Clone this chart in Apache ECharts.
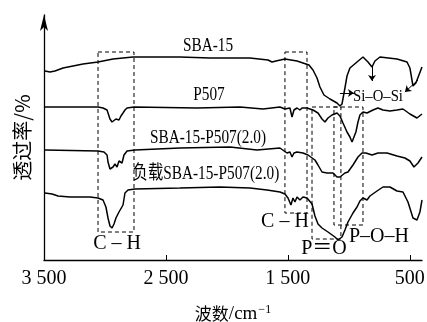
<!DOCTYPE html>
<html>
<head>
<meta charset="utf-8">
<script src="https://cdn.jsdelivr.net/npm/echarts@6.0.0/dist/echarts.min.js"></script>
<style>
  html, body { margin: 0; padding: 0; background: #fff; }
  #main { width: 427px; height: 322px; }
</style>
</head>
<body>
<div id="main"></div>
<script>
// 波数 (cm-1) 与 相对透过率（各曲线已错开）
const sba15 = [
  [3492,189],[3451,188],[3410,189],[3344,192],[3180,196],[3057,198],[2934,201],[2770,203],
  [2385,203],[2139,202],[1811,202],[1663,200],[1630,198],[1598,199],[1524,201],[1425,199],
  [1376,197],[1327,195],[1294,190],[1261,182],[1237,173],[1204,165],[1155,161],[1097,157],
  [1073,154],[1056,156],[1032,172],[1015,184],[991,192],[933,198],[884,203],[843,198],
  [810,193],[786,199],[745,203],[605,201],[523,198],[499,192],[474,174],[450,177],[400,193]
];
const p507 = [
  [3492,153],[3057,153],[3016,152],[2983,150],[2959,141],[2942,138],[2926,137],[2910,141],
  [2901,142],[2885,140],[2869,144],[2852,147],[2836,150],[2819,152],[2762,153],[2245,152],
  [1893,153],[1704,151],[1565,153],[1524,151],[1483,152],[1466,143],[1450,150],[1425,152],
  [1401,150],[1384,152],[1343,152],[1294,150],[1253,147],[1220,141],[1196,138],[1171,142],
  [1138,145],[1097,147],[1073,144],[1048,137],[1015,128],[991,123],[974,118],[958,120],
  [942,128],[925,138],[909,145],[884,148],[851,147],[802,150],[761,152],[720,150],
  [663,149],[605,150],[556,151],[499,146],[441,142],[400,146]
];
const sbaP507 = [
  [3492,110],[3057,109],[3008,108],[2983,105],[2975,98],[2959,91],[2934,93],[2918,96],
  [2901,93],[2885,99],[2860,97],[2844,105],[2819,109],[2754,110],[2385,112],[1975,113],
  [1753,110],[1565,112],[1507,107],[1483,108],[1466,103],[1450,107],[1425,108],[1376,107],
  [1335,105],[1278,100],[1253,95],[1220,88],[1179,87],[1130,87],[1097,83],[1073,83],
  [1032,87],[1007,88],[966,95],[925,103],[892,107],[860,107],[810,105],[761,107],
  [687,107],[605,104],[540,102],[499,99],[466,93],[433,97],[400,103]
];
const loaded = [
  [3492,67],[3434,66],[3385,64],[3287,63],[3123,63],[3057,62],[3016,60],[2992,53],
  [2975,42],[2959,34],[2942,32],[2926,36],[2910,42],[2901,40],[2885,48],[2869,46],
  [2852,55],[2836,67],[2811,70],[2754,71],[2385,72],[2057,73],[1811,72],[1671,70],
  [1565,68],[1524,66],[1499,62],[1475,55],[1458,62],[1442,58],[1425,63],[1401,60],
  [1376,63],[1343,62],[1302,56],[1278,44],[1253,36],[1220,32],[1171,28],[1114,23],
  [1089,20],[1056,23],[1032,30],[1007,38],[966,47],[933,53],[909,59],[884,62],
  [851,60],[827,64],[769,69],[720,73],[663,73],[605,69],[556,68],[515,58],
  [474,42],[441,40],[417,48],[400,60]
];

const tickValues = [3500, 2500, 1500, 500];
const tickLabels = ['3 500', '2 500', '1 500', '500'];

// 虚线框 [左波数, 上, 右波数, 下]
const boxes = [
  [3057, 208, 2762, 28],
  [1524, 208, 1343, 47],
  [1302, 153, 1065, 21],
  [1122, 153, 884, 35]
];
// 箭头 [起点, 终点]
const arrows = [
  [[1073, 167], [958, 167]],
  [[810, 194], [810, 179]],
  [[433, 180], [540, 168]]
];

const serif = "'Liberation Serif', 'Noto Sans CJK SC'";
const notes = [
  { text: 'SBA-15', at: [2155, 214], fs: 17, sx: 0.9, sy: 1.15 },
  { text: 'P507', at: [2147, 165], fs: 17, sx: 0.9, sy: 1.15 },
  { text: 'SBA-15-P507(2.0)', at: [2155, 122], fs: 17, sx: 0.9, sy: 1.15 },
  { text: '负载SBA-15-P507(2.0)', at: [2172, 86], fs: 17, sx: 0.9, sy: 1.15 },
  { text: 'Si–O–Si', at: [761, 164], fs: 16, sx: 0.92, sy: 1.1 },
  { text: 'C – H', at: [2901, 16], fs: 20, sx: 1, sy: 1 },
  { text: 'C – H', at: [1524, 38], fs: 20, sx: 1, sy: 1 },
  { text: 'P＝O', at: [1204, 11], fs: 20, sx: 1, sy: 1 },
  { text: 'P–O–H', at: [753, 23], fs: 20, sx: 1, sy: 1 }
];

const line = (name, data) => ({
  name: name,
  type: 'line',
  data: data,
  symbol: 'none',
  silent: true,
  lineStyle: { color: '#000', width: 1.5 }
});

const first = line('SBA-15', sba15);
first.markArea = {
  silent: true,
  itemStyle: { color: 'rgba(0,0,0,0)', borderColor: '#000', borderWidth: 1, borderType: [4, 3] },
  data: boxes.map(b => [{ coord: [b[0], b[1]] }, { coord: [b[2], b[3]] }])
};
first.markLine = {
  silent: true,
  symbol: ['none', 'arrow'],
  symbolSize: 6,
  label: { show: false },
  lineStyle: { color: '#000', width: 1, type: 'solid' },
  data: arrows.map(a => [{ coord: a[0] }, { coord: a[1] }])
};

const chart = echarts.init(document.getElementById('main'));
chart.setOption({
  animation: false,
  backgroundColor: '#fff',
  grid: { left: 44, right: 5, top: 15, bottom: 62, outerBoundsMode: 'none' },
  xAxis: {
    type: 'value',
    inverse: true,
    min: 400,
    max: 3500,
    name: '{z|波数}{t|/cm}{s|−1}',
    nameLocation: 'middle',
    nameGap: 44,
    nameTextStyle: {
      rich: {
        z: { fontFamily: 'Noto Sans CJK SC', fontSize: 17, color: '#000' },
        t: { fontFamily: serif, fontSize: 19, color: '#000' },
        s: { fontFamily: serif, fontSize: 12, color: '#000', verticalAlign: 'top', padding: [0, 0, 8, 1] }
      }
    },
    splitLine: { show: false },
    axisLine: { lineStyle: { color: '#000', width: 1.3 } },
    axisTick: { customValues: [500, 1500, 2500], inside: true, length: 5, lineStyle: { color: '#000', width: 1 } },
    axisLabel: {
      customValues: tickValues,
      formatter: v => tickLabels[tickValues.indexOf(v)],
      fontFamily: serif,
      fontSize: 20,
      color: '#000',
      margin: 9
    }
  },
  yAxis: {
    type: 'value',
    min: 0,
    max: 245,
    name: '透过率/%',
    nameLocation: 'middle',
    nameGap: 12,
    nameTextStyle: { fontFamily: 'Noto Sans CJK SC', fontSize: 20, color: '#000' },
    splitLine: { show: false },
    axisTick: { show: false },
    axisLabel: { show: false },
    axisLine: { show: true, symbol: ['none', 'arrow'], symbolSize: [6, 16], lineStyle: { color: '#000', width: 1.3 } }
  },
  series: [first, line('P507', p507), line('SBA-15-P507(2.0)', sbaP507), line('负载SBA-15-P507(2.0)', loaded)]
});

chart.setOption({
  graphic: notes.map(n => {
    const p = chart.convertToPixel({ gridIndex: 0 }, n.at);
    return {
      type: 'text',
      x: p[0],
      y: p[1],
      scaleX: n.sx,
      scaleY: n.sy,
      silent: true,
      style: { text: n.text, fontFamily: serif, fontSize: n.fs, fill: '#000', align: 'center', verticalAlign: 'middle' }
    };
  })
});
</script>
</body>
</html>
